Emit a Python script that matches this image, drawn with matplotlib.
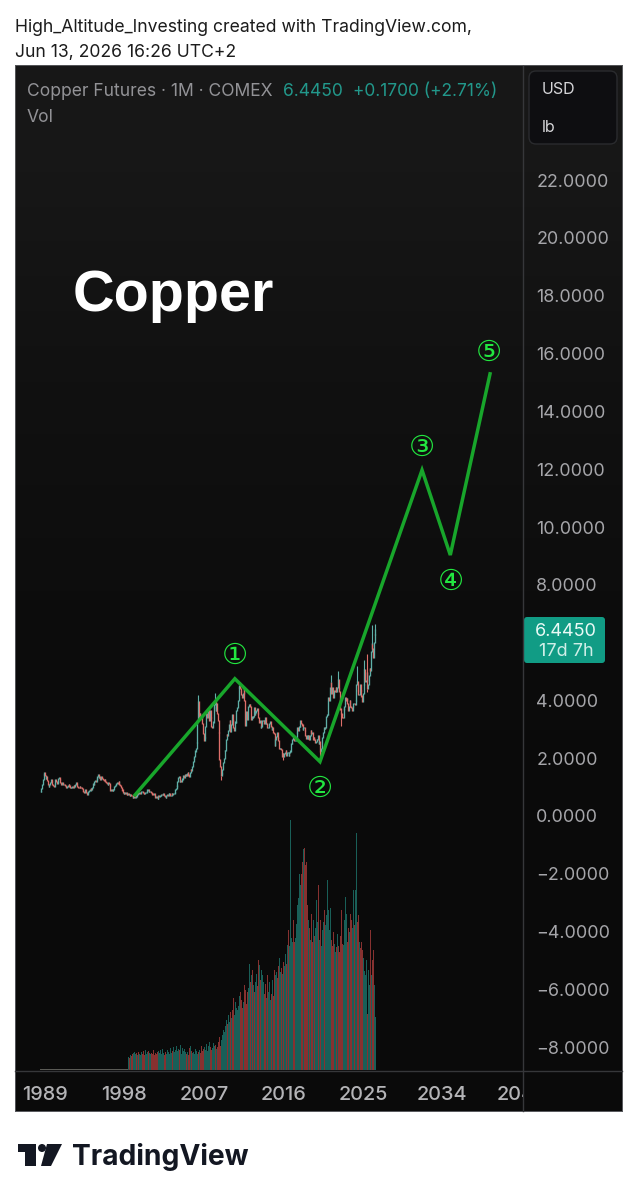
import matplotlib
matplotlib.use("Agg")
import numpy as np
import matplotlib.pyplot as plt
from matplotlib.patches import FancyBboxPatch, Polygon, Circle
from matplotlib.transforms import Bbox

# ---------- data ----------
START_YEAR = 1988.5   # first monthly candle: Jul 1988
closes = [
 0.84,0.95,1.10,1.25,1.45,1.50,
 1.40,1.30,1.38,1.22,1.10,1.02,1.08,1.15,1.25,1.18,1.08,1.05,
 1.02,1.12,1.25,1.18,1.12,1.20,1.30,1.32,1.25,1.15,1.08,1.15,
 1.12,1.08,1.10,1.05,1.02,0.98,1.02,1.05,1.08,1.04,1.00,0.98,
 0.98,1.02,1.00,1.05,1.02,1.08,1.14,1.10,1.02,1.00,0.98,1.02,
 1.00,0.98,0.95,0.88,0.85,0.82,0.86,0.90,0.80,0.76,0.80,0.84,
 0.88,0.90,0.95,0.92,1.00,1.12,1.10,1.18,1.22,1.18,1.28,1.38,
 1.42,1.35,1.38,1.28,1.35,1.32,1.30,1.25,1.22,1.25,1.18,1.15,
 1.12,1.10,1.15,1.12,1.05,0.90,0.92,0.88,0.90,0.92,1.02,1.05,
 1.08,1.12,1.15,1.12,1.18,1.10,1.05,0.98,0.92,0.90,0.82,0.78,
 0.80,0.78,0.80,0.76,0.75,0.76,0.74,0.72,0.74,0.72,0.70,0.66,
 0.66,0.63,0.66,0.72,0.68,0.76,0.80,0.78,0.82,0.78,0.80,0.84,
 0.84,0.80,0.78,0.77,0.82,0.82,0.86,0.90,0.90,0.84,0.84,0.84,
 0.80,0.78,0.76,0.74,0.76,0.70,0.66,0.66,0.65,0.62,0.70,0.67,
 0.70,0.72,0.74,0.73,0.74,0.76,0.70,0.68,0.66,0.70,0.73,0.70,
 0.76,0.78,0.72,0.72,0.76,0.74,0.78,0.79,0.82,0.92,0.95,1.04,
 1.20,1.32,1.36,1.18,1.24,1.20,1.28,1.30,1.40,1.34,1.42,1.44,
 1.40,1.48,1.50,1.42,1.38,1.50,1.60,1.58,1.70,1.90,2.00,2.05,
 2.25,2.35,2.55,3.30,3.95,3.35,3.55,3.45,3.45,3.40,3.20,2.85,
 2.60,2.72,3.10,3.55,3.40,3.45,3.70,3.30,3.65,3.40,3.10,3.05,
 3.25,3.75,3.85,3.95,3.65,3.90,3.55,3.30,2.90,1.95,1.70,1.40,
 1.46,1.60,1.84,2.00,2.28,2.28,2.65,2.82,2.80,2.95,3.15,3.30,
 2.92,3.18,3.50,3.30,3.05,2.95,3.25,3.25,3.65,3.75,4.00,4.45,
 4.50,4.42,4.30,4.20,4.10,4.25,4.45,4.00,3.15,3.60,3.45,3.35,
 3.80,3.85,3.85,3.80,3.35,3.45,3.40,3.45,3.75,3.50,3.60,3.65,
 3.70,3.55,3.40,3.25,3.30,3.05,3.10,3.30,3.30,3.30,3.20,3.40,
 3.20,3.20,3.05,3.05,3.15,3.20,3.25,3.10,3.00,3.05,2.90,2.85,
 2.45,2.65,2.75,2.90,2.70,2.60,2.35,2.35,2.35,2.30,2.05,2.15,
 2.05,2.15,2.20,2.25,2.10,2.20,2.20,2.08,2.20,2.25,2.52,2.52,
 2.65,2.72,2.65,2.60,2.60,2.70,2.90,3.05,2.95,3.10,3.10,3.30,
 3.20,3.15,3.00,3.05,3.05,2.95,2.80,2.70,2.80,2.70,2.80,2.65,
 2.80,2.95,2.85,2.90,2.65,2.72,2.65,2.55,2.58,2.65,2.65,2.80,
 2.52,2.58,2.25,2.35,2.40,2.72,2.90,3.05,3.02,3.05,3.45,3.50,
 3.52,4.10,4.00,4.45,4.62,4.25,4.45,4.30,4.10,4.35,4.30,4.45,
 4.32,4.45,4.72,4.40,4.30,3.70,3.55,3.50,3.42,3.40,3.70,3.80,
 4.10,4.00,4.08,3.90,3.65,3.78,4.00,3.80,3.75,3.65,3.80,3.90,
 3.90,3.85,4.00,4.55,4.65,4.35,4.20,4.20,4.55,4.35,4.15,3.95,
 4.25,4.55,5.05,4.65,4.70,4.95,4.40,4.55,4.85,5.10,5.05,5.70,
 5.95,5.80,5.50,6.00,6.27,6.445,
]
wick_highs = {(2006,5):4.20,(2008,4):4.25,(2011,2):4.65,(2021,5):4.88,(2022,3):5.03,
              (2024,5):5.20,(2025,3):5.40,(2025,7):5.60,(2026,1):6.60,(2026,6):6.65}
wick_lows = {(2008,12):1.25,(2020,3):2.05,(2022,7):3.13,(2025,7):4.30,(2016,1):1.95,(2001,11):0.60}

VOL_START_YEAR = 1998 + 5/12   # Jun 1998
EARLY_VOL_HEIGHT = 1.0         # thin sliver before volume data starts
volumes = [
 13,14,12,15,16,14,16,
 17,15,18,16,17,19,15,18,16,17,15,18,
 18,16,19,15,17,20,16,18,15,19,17,16,
 19,17,16,20,18,15,17,21,16,18,19,15,
 17,20,16,18,21,17,15,19,18,16,20,17,
 18,16,20,22,17,19,16,23,18,20,17,24,
 19,21,17,20,25,18,16,22,19,17,21,18,
 16,20,18,15,22,17,24,19,17,21,18,16,
 17,21,19,16,14,18,20,17,22,24,19,21,
 18,23,20,26,22,19,24,21,28,23,20,25,
 22,27,24,29,25,21,23,26,28,33,27,24,
 30,35,33,40,38,44,42,50,46,55,52,48,
 58,52,66,60,72,64,55,68,62,70,60,64,
 74,66,78,70,62,76,68,85,80,72,66,78,
 90,82,106,88,124,95,100,85,92,78,88,96,
 98,84,110,154,105,90,100,82,95,88,76,70,
 86,72,95,100,78,88,70,84,76,90,68,74,
 100,95,109,98,92,104,108,112,98,102,118,96,
 108,104,126,116,106,120,125,140,124,118,250,132,
 128,135,150,128,132,126,146,165,155,172,196,185,
 175,196,208,221,235,222,205,208,182,165,150,142,
 143,130,156,136,128,150,134,160,142,170,148,136,
 185,130,150,136,124,140,148,130,160,145,172,155,
 190,160,173,140,162,130,146,124,138,126,132,118,
 123,115,136,124,118,148,134,160,126,142,125,150,
 173,136,156,128,142,165,138,156,130,150,142,180,
 165,145,180,237,165,148,155,128,138,122,128,120,
 122,112,99,128,95,110,56,85,100,85,140,118,
 95,110,120,105,85,53,
]

wave_years = [1999.2, 2010.5, 2020.14, 2031.7, 2034.9, 2039.4]
wave_prices = [0.73, 4.75, 1.88, 11.97, 9.03, 15.30]
wave_labels = ["①", "②", "③", "④", "⑤"]
wave_label_years = [2010.45, 2020.1, 2031.65, 2034.95, 2039.25]
wave_label_prices = [5.55, 0.93, 12.73, 8.11, 16.01]

price_ticks = [22, 20, 18, 16, 14, 12, 10, 8, 4, 2, 0, -2, -4, -6, -8]
year_ticks = [1989, 1998, 2007, 2016, 2025, 2034, 2043]

# ---------- layout ----------
W, H = 637, 1200
fig = plt.figure(figsize=(W/100, H/100), dpi=100, facecolor="white")
L, R, T, B, BOX_R, BOX_B = 15, 523, 66, 1071, 622, 1111

def rect(l, t, r, b):
    return [l/W, 1-b/H, (r-l)/W, (b-t)/H]

bg = fig.add_axes(rect(L, T-1, BOX_R, BOX_B), zorder=0)
bg.imshow(np.array([[0x17],[0x11],[0x0d],[0x0a],[0x0a]], dtype=float), cmap="gray", vmin=0, vmax=255,
          aspect="auto", interpolation="bilinear")
bg.set_xticks([]); bg.set_yticks([])
for s in bg.spines.values():
    s.set_color("#55565a"); s.set_linewidth(0.7)

PX_PER_YEAR = 8.83
PX_PER_UNIT = 28.9
ax = fig.add_axes(rect(L, T, R, B), zorder=2, facecolor="none")
ax.set_xlim(1989 + (L-45)/PX_PER_YEAR, 1989 + (R-45)/PX_PER_YEAR)
ax.set_ylim((816-B)/PX_PER_UNIT, (816-T)/PX_PER_UNIT)

vax = fig.add_axes(rect(L, T, R, B), zorder=1, facecolor="none")
vax.set_xlim(ax.get_xlim())
vax.set_ylim(-1, B-T-1)
vax.axis("off")

UP, DOWN = "#5fb0a8", "#df6f6a"
VUP, VDOWN = "#26a69a", "#ef5350"
c = np.array(closes)
o = np.concatenate([[c[0]], c[:-1]])
x = START_YEAR + np.arange(len(c))/12
cols = [UP if a >= b else DOWN for a, b in zip(c, o)]
ax.vlines(x, np.minimum(o, c)-0.02, np.maximum(o, c)+0.02, colors=cols, lw=0.95, zorder=3)
def month_x(ym):
    return ym[0] + (ym[1]-1)/12
for ym, v in wick_highs.items():
    i = int(round((month_x(ym)-START_YEAR)*12))
    ax.vlines(x[i], max(c[i], o[i]), v, colors=cols[i], lw=0.8, zorder=3)
for ym, v in wick_lows.items():
    i = int(round((month_x(ym)-START_YEAR)*12))
    ax.vlines(x[i], v, min(c[i], o[i]), colors=cols[i], lw=0.8, zorder=3)

vols = np.array(volumes, dtype=float)
vx = VOL_START_YEAR + np.arange(len(vols))/12
vcols = []
for vv in vx:
    i = int(round((vv-START_YEAR)*12))
    vcols.append(VUP if c[i] >= o[i] else VDOWN)
vax.bar(vx, vols, width=1/12, color=vcols, alpha=0.55, linewidth=0)
early = x[x < VOL_START_YEAR-1e-6]
vax.bar(early, np.full(len(early), EARLY_VOL_HEIGHT), width=1/12, color="#5a5a55", linewidth=0)

GREEN = "#18a62b"
ax.plot(wave_years, wave_prices, color=GREEN, lw=2.5, solid_joinstyle="miter", zorder=5)
for yr, pr, s in zip(wave_label_years, wave_label_prices, wave_labels):
    ax.text(yr, pr, s, color="#22e640", fontsize=21, ha="center", va="center",
            family="DejaVu Sans", zorder=6)

for s in ax.spines.values():
    s.set_visible(False)
ax.yaxis.tick_right()
ax.set_yticks(price_ticks)
ax.set_yticklabels([f"{v:.4f}".replace("-", "\u2212") for v in price_ticks])
ax.tick_params(axis="y", length=0, pad=9.5, labelcolor="#a6a6aa", labelsize=12.9)
for t in ax.get_yticklabels():
    t.set_family("Inter")
ax.set_xticks(year_ticks)
ax.set_xticklabels([str(v) for v in year_ticks])
ax.tick_params(axis="x", length=0, pad=10.5, labelcolor="#b4b4b7", labelsize=14.3)
for t in ax.get_xticklabels():
    t.set_family("Inter"); t.set_weight(500)
    t.set_clip_on(True)
    t.set_clip_box(Bbox([[L, 0], [R, H]]))

ov = fig.add_axes([0, 0, 1, 1], zorder=5, facecolor="none")
ov.set_xlim(0, W); ov.set_ylim(H, 0); ov.axis("off")
ov.plot([R, R], [T, BOX_B], color="#36373a", lw=1.0)
ov.plot([L, BOX_R], [B, B], color="#36373a", lw=1.0)

ov.text(15, 28, "High_Altitude_Investing created with TradingView.com,", fontsize=12.65,
        family="Inter", color="#1c1c1c", va="center")
ov.text(15, 52, "Jun 13, 2026 16:26 UTC+2", fontsize=12.65, family="Inter", color="#1c1c1c", va="center")
ov.text(27, 92, "Copper Futures · 1M · COMEX", fontsize=12.6, family="Inter", color="#929296", va="center")
ov.text(283, 92, "6.4450", fontsize=12.6, family="Inter", color="#22988b", va="center")
ov.text(353, 92, "+0.1700 (+2.71%)", fontsize=12.5, family="Inter", color="#22988b", va="center")
ov.text(27, 117, "Vol", fontsize=12.6, family="Inter", color="#929296", va="center")
ov.text(73, 296, "Copper", fontsize=41.4, family="Liberation Sans", weight="bold", color="white", va="center")

ov.add_patch(FancyBboxPatch((532, 74), 82, 67, boxstyle="round,pad=3,rounding_size=7",
                            fc="#0e0e11", ec="#2a2b2e", lw=1))
ov.text(542, 90, "USD", fontsize=11.5, family="Inter", color="#d6d6d9", va="center")
ov.text(542, 127, "lb", fontsize=11.5, family="Inter", color="#d6d6d9", va="center")

ov.add_patch(FancyBboxPatch((526, 619), 77, 42, boxstyle="round,pad=2,rounding_size=3",
                            fc="#119c85", ec="none"))
ov.text(566, 631, "6.4450", fontsize=13, family="Inter", color="#eafaf6", va="center", ha="center")
ov.text(566, 652, "17d 7h", fontsize=13, family="Inter", color="#cfeee7", va="center", ha="center")

K = "#131722"
ov.add_patch(Polygon([(18,1144),(36,1144),(36,1166),(25,1166),(25,1152),(18,1152)], fc=K, ec="none"))
ov.add_patch(Circle((42, 1148), 4, fc=K, ec="none"))
ov.add_patch(Polygon([(47,1144),(62,1144),(51,1166),(41,1166)], fc=K, ec="none"))
ov.text(72, 1157, "TradingView", fontsize=20.3, family="Inter", weight=700, color=K, va="center")

fig.savefig("out.png", dpi=100, facecolor="white")
